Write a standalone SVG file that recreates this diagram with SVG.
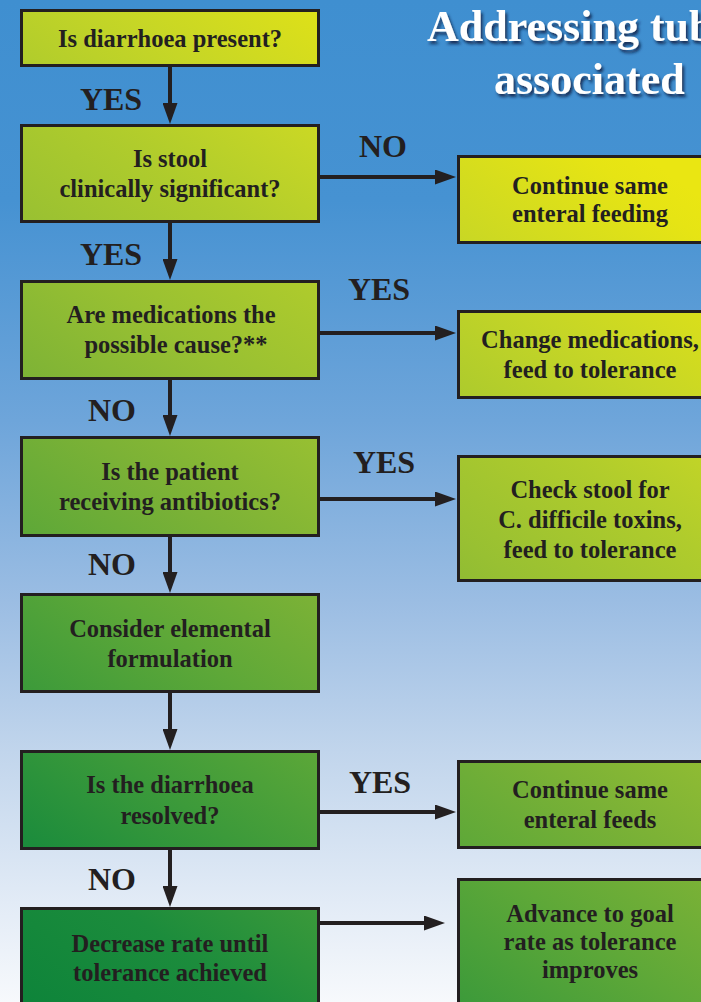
<svg xmlns="http://www.w3.org/2000/svg" width="701" height="1002" viewBox="0 0 701 1002">
<defs>
<linearGradient id="bg" x1="0" y1="0" x2="0" y2="1002" gradientUnits="userSpaceOnUse">
<stop offset="0" stop-color="#3f8fd0"/>
<stop offset="0.2" stop-color="#4692d2"/>
<stop offset="0.42" stop-color="#6ea5da"/>
<stop offset="0.6" stop-color="#9bbde3"/>
<stop offset="0.75" stop-color="#c1d5ec"/>
<stop offset="0.9" stop-color="#e2ebf6"/>
<stop offset="1" stop-color="#f7f9fc"/>
</linearGradient>
<linearGradient id="boxfill" x1="145" y1="-202" x2="-464" y2="648" gradientUnits="userSpaceOnUse">
<stop offset="0" stop-color="#eae612"/>
<stop offset="0.033" stop-color="#e6e414"/>
<stop offset="0.181" stop-color="#c6d626"/>
<stop offset="0.276" stop-color="#b0cc2c"/>
<stop offset="0.4" stop-color="#98c032"/>
<stop offset="0.524" stop-color="#7cb236"/>
<stop offset="0.638" stop-color="#5ea838"/>
<stop offset="0.762" stop-color="#3c9a3a"/>
<stop offset="0.876" stop-color="#1c8c3c"/>
<stop offset="1" stop-color="#0e843a"/>
</linearGradient>
<filter id="shadow" x="-10%" y="-30%" width="130%" height="170%">
<feDropShadow dx="2" dy="3" stdDeviation="1.6" flood-color="#0a1f45" flood-opacity="0.85"/>
</filter>
<marker id="arrow" markerUnits="userSpaceOnUse" markerWidth="21" markerHeight="15" viewBox="0 0 21 15" refX="11" refY="7.5" orient="auto">
<path d="M0,0 L21,7.5 L0,15 z" fill="#231f20"/>
</marker>
</defs>
<style>
.box{fill:url(#boxfill);stroke:#231f20;stroke-width:3}
.t{font-family:"Liberation Serif","Times New Roman",serif;font-weight:bold;font-size:24.5px;fill:#231f20;text-anchor:middle}
.lbl{font-family:"Liberation Serif","Times New Roman",serif;font-weight:bold;font-size:32px;fill:#231f20;text-anchor:middle}
.title{font-family:"Liberation Serif","Times New Roman",serif;font-weight:bold;font-size:44px;fill:#ffffff;filter:url(#shadow)}
.conn{stroke:#231f20;stroke-width:4;fill:none;marker-end:url(#arrow)}
</style>
<rect x="0" y="0" width="701" height="1002" fill="url(#bg)"/>

<g id="title">
<text class="title" x="427" y="41">Addressing tub</text>
<text class="title" x="494" y="94">associated</text>
</g>

<g id="connectors">
<line class="conn" x1="170" y1="67" x2="170" y2="114"/>
<line class="conn" x1="170" y1="223" x2="170" y2="270"/>
<line class="conn" x1="170" y1="380" x2="170" y2="426"/>
<line class="conn" x1="170" y1="537" x2="170" y2="583"/>
<line class="conn" x1="170" y1="693" x2="170" y2="740"/>
<line class="conn" x1="170" y1="850" x2="170" y2="897"/>
<line class="conn" x1="320" y1="177" x2="446" y2="177"/>
<line class="conn" x1="320" y1="333" x2="446" y2="333"/>
<line class="conn" x1="320" y1="499" x2="446" y2="499"/>
<line class="conn" x1="320" y1="812" x2="446" y2="812"/>
<line class="conn" x1="320" y1="923" x2="435" y2="923"/>
</g>

<g id="labels">
<text class="lbl" x="111" y="110">YES</text>
<text class="lbl" x="383" y="157">NO</text>
<text class="lbl" x="111" y="265">YES</text>
<text class="lbl" x="379" y="300">YES</text>
<text class="lbl" x="112" y="421">NO</text>
<text class="lbl" x="384" y="473">YES</text>
<text class="lbl" x="112" y="575">NO</text>
<text class="lbl" x="380" y="793">YES</text>
<text class="lbl" x="112" y="890">NO</text>
</g>

<g id="n1">
<rect class="box" x="21.5" y="10.5" width="297" height="55"/>
<text class="t" x="170" y="47">Is diarrhoea present?</text>
</g>
<g id="n2">
<rect class="box" x="21.5" y="125.5" width="297" height="96"/>
<text class="t" x="170" y="167">Is stool</text>
<text class="t" x="170" y="197">clinically significant?</text>
</g>
<g id="n3">
<rect class="box" x="21.5" y="281.5" width="297" height="97"/>
<text class="t" x="171" y="323">Are medications the</text>
<text class="t" x="176" y="353">possible cause?**</text>
</g>
<g id="n4">
<rect class="box" x="21.5" y="437.5" width="297" height="98"/>
<text class="t" x="170" y="480">Is the patient</text>
<text class="t" x="170" y="510">receiving antibiotics?</text>
</g>
<g id="n5">
<rect class="box" x="21.5" y="594.5" width="297" height="97"/>
<text class="t" x="170" y="637">Consider elemental</text>
<text class="t" x="170" y="667">formulation</text>
</g>
<g id="n6">
<rect class="box" x="21.5" y="751.5" width="297" height="97"/>
<text class="t" x="170" y="793">Is the diarrhoea</text>
<text class="t" x="170" y="824">resolved?</text>
</g>
<g id="n7">
<rect class="box" x="21.5" y="908.5" width="297" height="100"/>
<text class="t" x="170" y="952">Decrease rate until</text>
<text class="t" x="170" y="981">tolerance achieved</text>
</g>

<g id="r1">
<rect class="box" x="458.5" y="156.5" width="280" height="86"/>
<text class="t" x="590" y="194">Continue same</text>
<text class="t" x="590" y="222">enteral feeding</text>
</g>
<g id="r2">
<rect class="box" x="458.5" y="311.5" width="280" height="86"/>
<text class="t" x="590" y="348">Change medications,</text>
<text class="t" x="590" y="378">feed to tolerance</text>
</g>
<g id="r3">
<rect class="box" x="458.5" y="456.5" width="280" height="124"/>
<text class="t" x="590" y="498">Check stool for</text>
<text class="t" x="590" y="528">C. difficile toxins,</text>
<text class="t" x="590" y="558">feed to tolerance</text>
</g>
<g id="r4">
<rect class="box" x="458.5" y="761.5" width="280" height="86"/>
<text class="t" x="590" y="798">Continue same</text>
<text class="t" x="590" y="828">enteral feeds</text>
</g>
<g id="r5">
<rect class="box" x="458.5" y="879.5" width="280" height="130"/>
<text class="t" x="590" y="922">Advance to goal</text>
<text class="t" x="590" y="950">rate as tolerance</text>
<text class="t" x="590" y="978">improves</text>
</g>
</svg>
